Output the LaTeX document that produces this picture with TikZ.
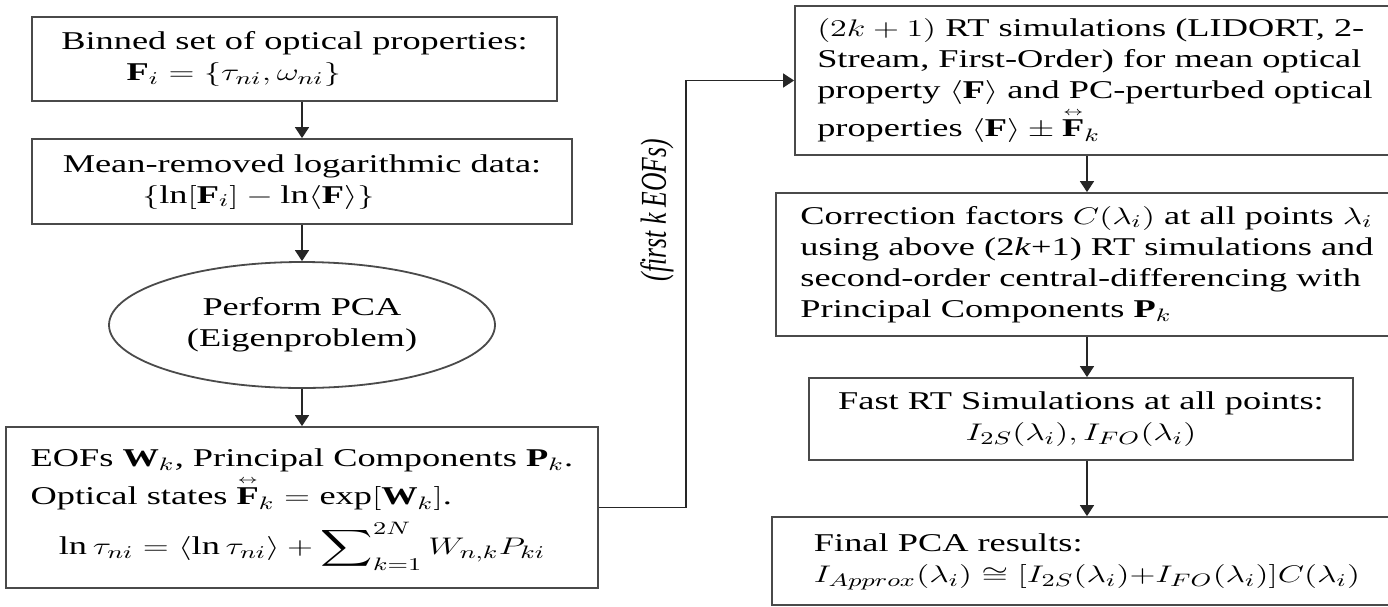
\documentclass[tikz,border=0pt]{standalone}
\usepackage{fontspec}
\setmainfont{Liberation Serif}
\usepackage{amsmath}
\usepackage{amssymb}
\usepackage{graphicx}
\usepackage{tikz}
\usetikzlibrary{arrows.meta,shapes.geometric}
\definecolor{boxline}{HTML}{4A4A4A}
\newcommand{\wtext}[1]{\scalebox{1.42}[1]{#1}}
\newcommand{\Fpm}{\overset{\scriptscriptstyle\leftrightarrow}{\mathbf{F}}}

\begin{document}
\begin{tikzpicture}[x=.5pt,y=-.5pt,font=\fontsize{12.8}{15.5}\selectfont,
 box/.style={draw=boxline,line width=.9pt,inner sep=0pt},
 arr/.style={-{Triangle[length=5.5pt,width=7pt]},draw=black!85,line width=.75pt}]
\clip (0,0) rectangle (1388,606);
% left column
\node[box,minimum width=262.5pt,minimum height=42pt] (binned) at (294.5,59)
 {\wtext{\begin{tabular}{@{}l@{}}Binned set of optical properties:\\
 \hspace{23pt}$\mathbf{F}_i=\{\tau_{ni},\omega_{ni}\}$\end{tabular}}};
\node[box,minimum width=270pt,minimum height=42.5pt] (meanrm) at (302,181.5)
 {\wtext{\begin{tabular}{@{}l@{}}Mean-removed logarithmic data:\\
 \hspace{28pt}$\{\ln[\mathbf{F}_i]-\ln\langle\mathbf{F}\rangle\}$\end{tabular}}};
\node[box,ellipse,minimum width=193pt,minimum height=63pt] (pca) at (302,325)
 {\wtext{\begin{tabular}{@{}c@{}}Perform PCA\\(Eigenproblem)\end{tabular}}};
\node[box,minimum width=296pt,minimum height=80.5pt] (eofs) at (302,507.5)
 {\wtext{\begin{tabular}{@{}l@{}}EOFs $\mathbf{W}_k$, Principal Components $\mathbf{P}_k$.\\
 Optical states $\Fpm_k=\exp[\mathbf{W}_k]$.\\[4pt]
 \multicolumn{1}{c}{$\ln\tau_{ni}=\langle\ln\tau_{ni}\rangle+\displaystyle\sum\nolimits_{k=1}^{2N}W_{n,k}P_{ki}$}\end{tabular}}};
% right column
\node[box,minimum width=300pt,minimum height=74.5pt] (rtsim) at (1095,80.5)
 {\wtext{\begin{tabular}{@{}l@{}}$(2k+1)$ RT simulations (LIDORT, 2-\\
 Stream, First-Order) for mean optical\\
 property $\langle\mathbf{F}\rangle$ and PC-perturbed optical\\
 properties $\langle\mathbf{F}\rangle\pm\Fpm_k$\end{tabular}}};
\node[box,minimum width=311pt,minimum height=71.5pt] (corr) at (1087,264.5)
 {\wtext{\begin{tabular}{@{}l@{}}Correction factors $C(\lambda_i)$ at all points $\lambda_i$\\
 using above (2\textit{k}+1) RT simulations and\\
 second-order central-differencing with\\
 Principal Components $\mathbf{P}_k$\end{tabular}}};
\node[box,minimum width=272pt,minimum height=41pt] (fast) at (1081,419)
 {\wtext{\begin{tabular}{@{}c@{}}Fast RT Simulations at all points:\\
 $I_{2S}(\lambda_i),I_{FO}(\lambda_i)$\end{tabular}}};
\node[box,minimum width=315pt,minimum height=44pt] (final) at (1087,561)
 {\wtext{\begin{tabular}{@{}l@{}}Final PCA results:\\
 $I_{Approx}(\lambda_i)\cong[I_{2S}(\lambda_i){+}I_{FO}(\lambda_i)]C(\lambda_i)$\end{tabular}}\hspace{18pt}};
\node[rotate=90,font=\fontsize{12.8}{15.5}\selectfont\itshape] (eoflab) at (657,210)
 {\scalebox{1}[1.42]{(first k EOFs)}};
% connectors
\draw[arr] (binned.south -| pca) -- (meanrm);
\draw[arr] (meanrm) -- (pca);
\draw[arr] (pca) -- (eofs);
\draw[arr] (eofs.east) -- ++(87,0) |- (rtsim.west);
\draw[arr] (rtsim.south -| corr) -- (corr);
\draw[arr] (corr) -- (corr |- fast.north);
\draw[arr] (fast.south -| corr) -- (final);
\end{tikzpicture}
\end{document}
